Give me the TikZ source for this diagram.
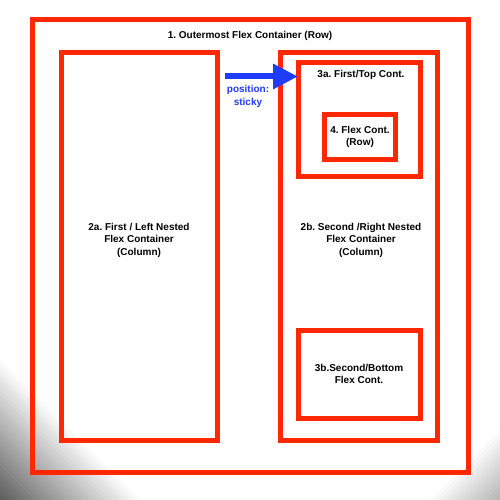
\documentclass[tikz,border=0pt]{standalone}
\usepackage{fontspec}
\setmainfont{Liberation Sans}
\usepackage{xcolor}
\usetikzlibrary{arrows.meta,positioning}
\definecolor{flexred}{RGB}{255,40,0}
\definecolor{stickyblue}{RGB}{30,60,250}
\frenchspacing

\begin{document}
\begin{tikzpicture}[x=1pt,y=-1pt,
every node/.style = {align=center, text centered,
    font=\bfseries\fontsize{10}{12.5}\selectfont, inner sep=0pt, outer sep=0pt},
flexbox/.style={draw=flexred, line width=5pt, rectangle},
stickyarrow/.style={draw=stickyblue, line width=6pt,
    -{Triangle[width=24pt,length=25pt]}}]
\useasboundingbox (0,0) rectangle (500,500);
\foreach \d in {145,140,...,5}{
  \pgfmathsetmacro\shadeleft{65*(1-\d/145)}
  \fill[black!\shadeleft] (0,500) -- (0,500-\d) -- (\d,500) -- cycle;
}
\foreach \d in {75,70,...,5}{
  \pgfmathsetmacro\shaderight{30*(1-\d/75)}
  \fill[black!\shaderight] (500,500) -- (500,500-\d) -- (500-\d,500) -- cycle;
}

\node[flexbox, minimum width=436pt, minimum height=452pt] (outer) at (250,246) {};
\node (outerlbl) at (250,36) {1. Outermost Flex Container (Row)};
\node[flexbox, minimum width=156.5pt, minimum height=387pt] (leftcol) at (139.25,246.5) {};
\node (leftlbl) at (139,240) {2a. First / Left Nested\\Flex Container\\(Column)};
\node[flexbox, minimum width=157pt, minimum height=387pt] (rightcol) at (359,246.5) {};
\node (rightlbl) at (361,240) {2b. Second /Right Nested\\Flex Container\\(Column)};
\node[flexbox, minimum width=122pt, minimum height=113pt] (topcont) at (359,119.5) {};
\node (toplbl) at (361,75) {3a. First/Top Cont.};
\node[flexbox, minimum width=71pt, minimum height=45pt] (rowcont) at (360,137)
  {4. Flex Cont.\\(Row)};
\node[flexbox, minimum width=122pt, minimum height=88pt] (bottomcont) at (359,374)
  {3b.Second/Bottom\\Flex Cont.};

\coordinate (stickytail) at (225,76.5);
\draw[stickyarrow] (stickytail) -- (stickytail -| topcont.west);
\node[text=stickyblue] (stickylbl) at (248,96.5) {position:\\sticky};
\end{tikzpicture}
\end{document}
